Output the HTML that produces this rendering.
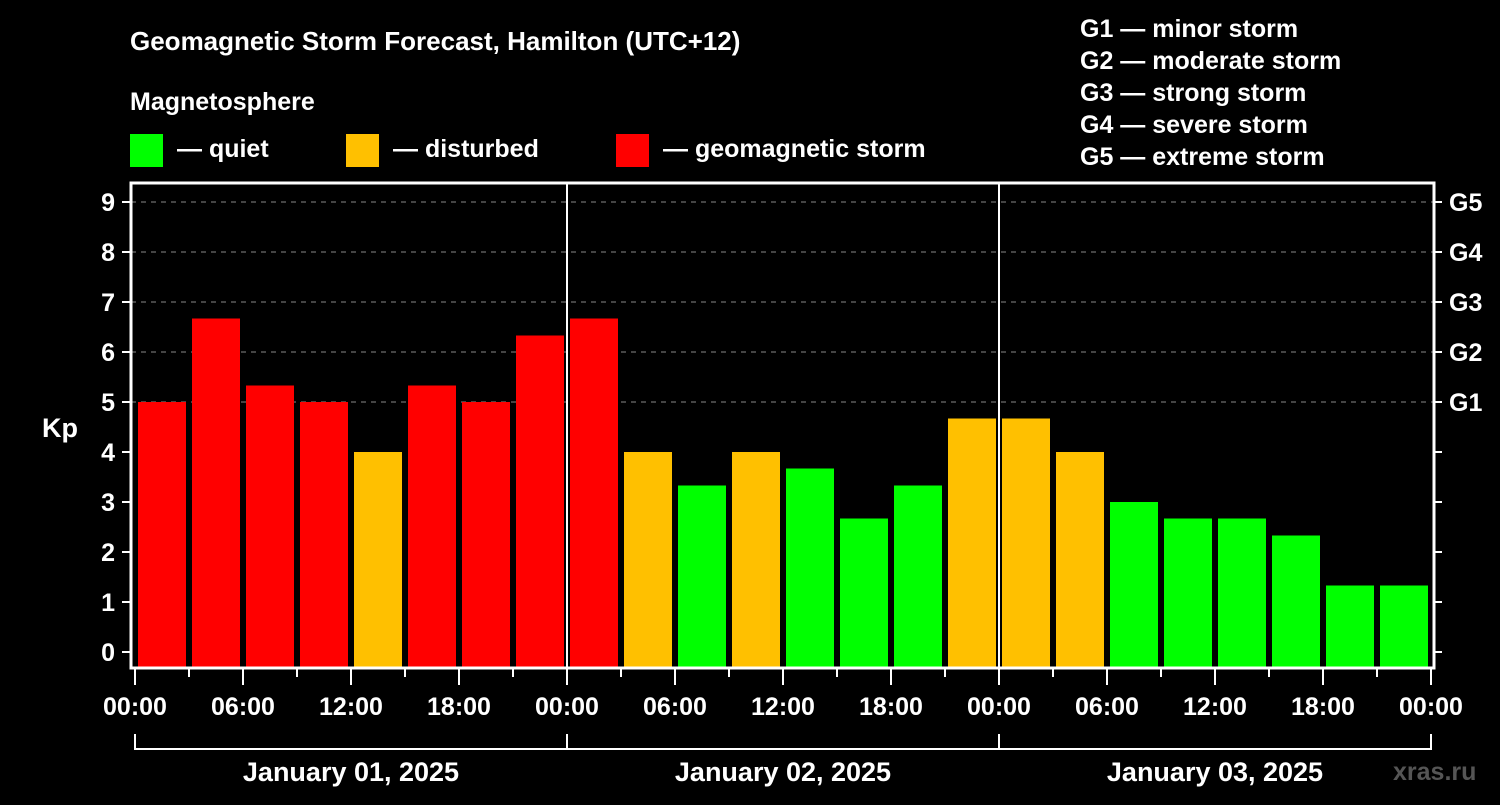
<!DOCTYPE html>
<html><head><meta charset="utf-8"><style>
body{margin:0;background:#000;}
svg text{font-family:"Liberation Sans",sans-serif;font-weight:bold;fill:#fff;}
</style></head><body>
<svg width="1500" height="800" xmlns="http://www.w3.org/2000/svg">
<rect width="1500" height="800" fill="#000"/>
<text x="130" y="50" font-size="26">Geomagnetic Storm Forecast, Hamilton (UTC+12)</text>
<text x="130" y="110" font-size="25">Magnetosphere</text>
<g>
<rect x="130" y="134" width="33" height="33" fill="#00ff00"/>
<text x="177" y="157" font-size="25">— quiet</text>
<rect x="346" y="134" width="33" height="33" fill="#ffc000"/>
<text x="393" y="157" font-size="25">— disturbed</text>
<rect x="616" y="134" width="33" height="33" fill="#ff0000"/>
<text x="663" y="157" font-size="25">— geomagnetic storm</text>
</g>
<g font-size="25">
<text x="1080" y="37">G1 — minor storm</text>
<text x="1080" y="69">G2 — moderate storm</text>
<text x="1080" y="101">G3 — strong storm</text>
<text x="1080" y="133">G4 — severe storm</text>
<text x="1080" y="165">G5 — extreme storm</text>
</g>
<text x="42" y="437" font-size="27">Kp</text>
<text x="1393" y="780" font-size="25" fill="#555" style="fill:#555">xras.ru</text>
<g id="grid"></g>
<g id="bars"></g>
<g id="axes"></g>
</svg>
<script>
const kpValues=[5,6.67,5.33,5,4,5.33,5,6.33,6.67,4,3.33,4,3.67,2.67,3.33,4.67,4.67,4,3,2.67,2.67,2.33,1.33,1.33];
const yTicks=[0,1,2,3,4,5,6,7,8,9];
const gLabels=["","","","","","G1","G2","G3","G4","G5"];
const xTickLabels=["00:00","06:00","12:00","18:00","00:00","06:00","12:00","18:00","00:00","06:00","12:00","18:00","00:00"];
const dayLabels=["January 01, 2025","January 02, 2025","January 03, 2025"];
const NS="http://www.w3.org/2000/svg";
const L=131,R=1434,T=183,B=668,X0=135,DAY=432;
const y=v=>652-v*50;
const x=h=>X0+h*DAY/24;
function mk(p,tag,a){const e=document.createElementNS(NS,tag);for(const k in a)e.setAttribute(k,a[k]);p.appendChild(e);return e;}
const grid=document.getElementById('grid'),bars=document.getElementById('bars'),axes=document.getElementById('axes');
yTicks.forEach((v,i)=>{
 if(v>=5){const g=mk(grid,'line',{x1:L,x2:R,y1:y(v),y2:y(v),stroke:'#888','stroke-dasharray':'5,5','stroke-width':1});
 
 }
 const t=mk(axes,'line',{x1:122,x2:L,y1:y(v),y2:y(v),stroke:'#fff','stroke-width':2});
 
 
 const t2=mk(axes,'line',{x1:R,x2:1442,y1:y(v),y2:y(v),stroke:'#fff','stroke-width':2});
 
 
 const lb=mk(axes,'text',{x:115,y:y(v)+9,'font-size':25,'text-anchor':'end'});lb.textContent=v;
 
 
 if(gLabels[i]){const g=mk(axes,'text',{x:1449,y:y(v)+9,'font-size':25});g.textContent=gLabels[i];
 
 }
});
kpValues.forEach((v,i)=>{
 const c=v>=5?'#ff0000':(v>=4?'#ffc000':'#00ff00');
 const r=mk(bars,'rect',{x:x(i*3)+3,y:y(v),width:48,height:B-y(v),fill:c});
 
 
});
[1,2].forEach(d=>{const l=mk(axes,'line',{x1:x(d*24),x2:x(d*24),y1:T,y2:B,stroke:'#fff','stroke-width':2});
 
 });
const fr=mk(axes,'rect',{x:L,y:T,width:R-L,height:B-T,fill:'none',stroke:'#fff','stroke-width':3});


for(let h=0;h<=72;h+=3){const maj=h%6===0;
 const t=mk(axes,'line',{x1:x(h),x2:x(h),y1:B,y2:maj?685:677,stroke:'#fff','stroke-width':2});
 
 }
xTickLabels.forEach((s,i)=>{const t=mk(axes,'text',{x:x(i*6),y:715,'font-size':25,'text-anchor':'middle'});t.textContent=s;
 
 });
const br=mk(axes,'line',{x1:x(0),x2:x(72),y1:749,y2:749,stroke:'#fff','stroke-width':2});


for(let d=0;d<=3;d++){const l=mk(axes,'line',{x1:x(d*24),x2:x(d*24),y1:734,y2:750,stroke:'#fff','stroke-width':2});
 
 }
dayLabels.forEach((s,i)=>{const t=mk(axes,'text',{x:x(i*24+12),y:781,'font-size':27,'text-anchor':'middle'});t.textContent=s;
 
 });
</script>
</body></html>
